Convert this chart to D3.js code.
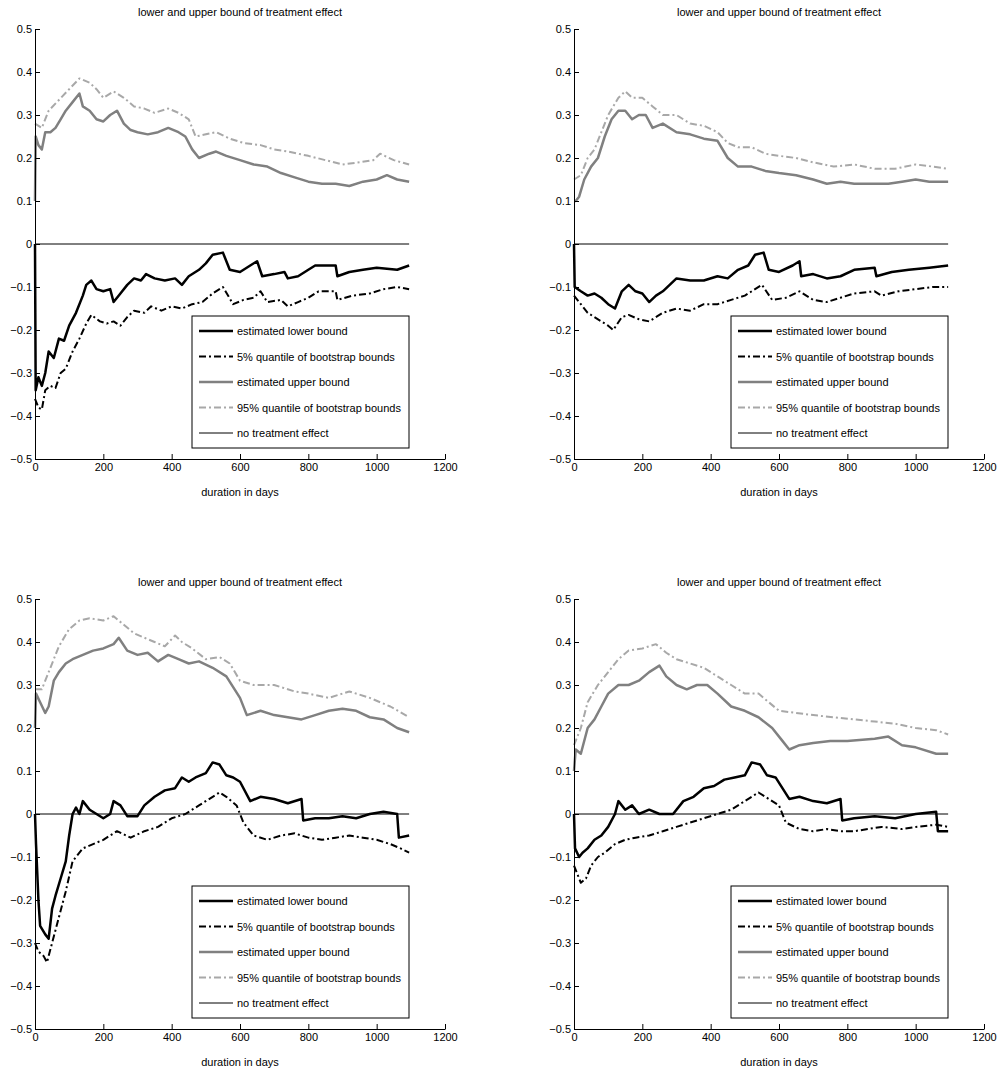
<!DOCTYPE html>
<html><head><meta charset="utf-8">
<script src="https://cdn.jsdelivr.net/npm/d3@7"></script>
<style>body{margin:0;background:#fff}text{font-family:"Liberation Sans",Arial,sans-serif}</style>
</head><body>
<svg id="c" width="1005" height="1075"></svg>
<script>
// data: [day, value] pairs
var p1Upper=[[0,0.1],[2,0.25],[10,0.23],[20,0.22],[30,0.26],[45,0.26],[60,0.27],[75,0.29],[90,0.31],[110,0.33],[130,0.35],[140,0.32],[160,0.31],[180,0.29],[200,0.285],[220,0.30],[240,0.31],[260,0.28],[280,0.265],[300,0.26],[330,0.255],[360,0.26],[390,0.27],[420,0.26],[440,0.25],[460,0.22],[480,0.2],[510,0.21],[530,0.215],[560,0.205],[600,0.195],[640,0.185],[680,0.18],[720,0.165],[760,0.155],[800,0.145],[840,0.14],[880,0.14],[920,0.135],[960,0.145],[1000,0.15],[1030,0.16],[1060,0.15],[1095,0.145]];
var p1Q95=[[0,0.28],[20,0.27],[40,0.31],[70,0.335],[100,0.36],[130,0.385],[160,0.375],[180,0.36],[200,0.34],[230,0.355],[260,0.34],[290,0.32],[320,0.315],[350,0.305],[390,0.315],[420,0.305],[450,0.29],[470,0.25],[500,0.255],[530,0.26],[570,0.245],[610,0.235],[660,0.23],[700,0.22],[740,0.215],[800,0.205],[850,0.195],[900,0.185],[950,0.19],[990,0.195],[1010,0.21],[1050,0.195],[1095,0.185]];
var p1Lower=[[0,0],[2,-0.34],[10,-0.31],[20,-0.33],[30,-0.3],[40,-0.25],[55,-0.265],[70,-0.22],[85,-0.225],[100,-0.19],[120,-0.16],[140,-0.12],[150,-0.095],[165,-0.085],[180,-0.105],[200,-0.11],[220,-0.105],[230,-0.135],[250,-0.115],[270,-0.095],[290,-0.08],[310,-0.085],[325,-0.07],[350,-0.08],[380,-0.085],[410,-0.08],[430,-0.095],[450,-0.075],[480,-0.06],[500,-0.045],[520,-0.025],[550,-0.02],[570,-0.06],[600,-0.065],[630,-0.05],[650,-0.04],[665,-0.075],[700,-0.07],[730,-0.065],[740,-0.08],[770,-0.075],[800,-0.06],[820,-0.05],[880,-0.05],[885,-0.075],[920,-0.065],[960,-0.06],[1000,-0.055],[1060,-0.06],[1095,-0.05]];
var p1Q5=[[0,-0.36],[10,-0.38],[20,-0.385],[30,-0.34],[45,-0.33],[60,-0.335],[75,-0.3],[90,-0.29],[110,-0.25],[130,-0.22],[150,-0.185],[165,-0.165],[190,-0.18],[210,-0.185],[230,-0.18],[250,-0.19],[270,-0.17],[290,-0.155],[320,-0.16],[340,-0.145],[370,-0.155],[400,-0.145],[430,-0.15],[460,-0.14],[490,-0.135],[520,-0.115],[550,-0.1],[580,-0.14],[610,-0.13],[640,-0.125],[660,-0.11],[680,-0.135],[720,-0.13],[740,-0.145],[770,-0.135],[800,-0.125],[830,-0.11],[880,-0.11],[885,-0.13],[930,-0.12],[980,-0.115],[1020,-0.105],[1060,-0.1],[1095,-0.105]];

var p2Upper=[[0,0.1],[5,0.1],[15,0.11],[30,0.15],[50,0.18],[70,0.2],[90,0.25],[110,0.29],[130,0.31],[150,0.31],[170,0.29],[190,0.3],[210,0.3],[230,0.27],[260,0.28],[300,0.26],[340,0.255],[380,0.245],[420,0.24],[450,0.2],[480,0.18],[520,0.18],[560,0.17],[600,0.165],[650,0.16],[700,0.15],[740,0.14],[780,0.145],[820,0.14],[880,0.14],[920,0.14],[960,0.145],[1000,0.15],[1040,0.145],[1095,0.145]];
var p2Q95=[[0,0.15],[20,0.16],[40,0.2],[60,0.22],[80,0.26],[100,0.3],[130,0.34],[150,0.355],[170,0.34],[200,0.34],[230,0.32],[260,0.3],[300,0.3],[340,0.28],[380,0.275],[420,0.26],[450,0.235],[480,0.225],[520,0.225],[560,0.21],[600,0.205],[650,0.2],[700,0.19],[760,0.18],[820,0.185],[880,0.175],[940,0.175],[1000,0.185],[1050,0.18],[1095,0.175]];
var p2Lower=[[0,0],[2,-0.1],[20,-0.11],[40,-0.12],[60,-0.115],[80,-0.125],[100,-0.14],[120,-0.15],[140,-0.11],[160,-0.095],[180,-0.11],[200,-0.115],[220,-0.135],[240,-0.12],[260,-0.11],[280,-0.095],[300,-0.08],[340,-0.085],[380,-0.085],[420,-0.075],[450,-0.08],[480,-0.06],[510,-0.05],[530,-0.025],[555,-0.02],[570,-0.06],[600,-0.065],[640,-0.05],[660,-0.04],[665,-0.075],[700,-0.07],[740,-0.08],[780,-0.075],[820,-0.06],[880,-0.055],[885,-0.075],[930,-0.065],[980,-0.06],[1040,-0.055],[1095,-0.05]];
var p2Q5=[[0,-0.12],[20,-0.14],[40,-0.16],[60,-0.17],[80,-0.18],[100,-0.19],[115,-0.2],[140,-0.17],[160,-0.165],[190,-0.175],[220,-0.18],[260,-0.16],[300,-0.15],[340,-0.155],[380,-0.14],[420,-0.14],[460,-0.13],[500,-0.12],[530,-0.105],[550,-0.095],[580,-0.13],[620,-0.125],[660,-0.11],[700,-0.13],[740,-0.135],[780,-0.125],[820,-0.115],[880,-0.11],[900,-0.12],[950,-0.11],[1000,-0.105],[1050,-0.1],[1095,-0.1]];

var p3Upper=[[0,0.2],[3,0.28],[15,0.26],[30,0.235],[40,0.25],[55,0.31],[70,0.33],[90,0.35],[110,0.36],[140,0.37],[170,0.38],[200,0.385],[230,0.395],[245,0.41],[270,0.38],[300,0.37],[330,0.375],[360,0.355],[390,0.37],[420,0.36],[450,0.35],[480,0.355],[520,0.34],[560,0.32],[600,0.27],[620,0.23],[660,0.24],[700,0.23],[740,0.225],[780,0.22],[820,0.23],[860,0.24],[900,0.245],[940,0.24],[980,0.225],[1020,0.22],[1060,0.2],[1095,0.19]];
var p3Q95=[[0,0.29],[20,0.29],[40,0.33],[70,0.39],[100,0.43],[130,0.45],[160,0.455],[200,0.45],[230,0.46],[260,0.44],[290,0.42],[320,0.41],[350,0.4],[380,0.39],[410,0.415],[430,0.4],[460,0.385],[500,0.36],[540,0.365],[570,0.35],[600,0.31],[640,0.3],[700,0.3],[760,0.285],[800,0.28],[860,0.27],[920,0.285],[980,0.27],[1040,0.25],[1095,0.225]];
var p3Lower=[[0,0],[3,-0.07],[10,-0.2],[15,-0.26],[30,-0.28],[40,-0.29],[50,-0.22],[60,-0.19],[75,-0.15],[90,-0.11],[100,-0.05],[110,0.0],[120,0.015],[130,0.0],[140,0.03],[160,0.01],[180,0.0],[200,-0.01],[220,0.0],[230,0.03],[250,0.02],[270,-0.005],[300,-0.005],[320,0.02],[350,0.04],[380,0.055],[410,0.06],[430,0.085],[450,0.075],[470,0.085],[500,0.095],[520,0.12],[540,0.115],[560,0.09],[580,0.085],[600,0.075],[630,0.03],[660,0.04],[700,0.035],[740,0.025],[780,0.035],[785,-0.015],[820,-0.01],[860,-0.01],[900,-0.005],[940,-0.01],[980,0.0],[1020,0.005],[1060,0.0],[1065,-0.055],[1095,-0.05]];
var p3Q5=[[0,-0.3],[10,-0.32],[25,-0.33],[35,-0.345],[50,-0.3],[70,-0.24],[90,-0.18],[110,-0.11],[140,-0.08],[170,-0.07],[200,-0.06],[240,-0.04],[280,-0.055],[320,-0.04],[360,-0.03],[400,-0.01],[440,0.0],[480,0.02],[520,0.04],[540,0.05],[560,0.04],[590,0.02],[610,-0.02],[640,-0.05],[680,-0.06],[720,-0.05],[760,-0.045],[800,-0.055],[840,-0.06],[880,-0.055],[920,-0.05],[960,-0.055],[1000,-0.06],[1040,-0.07],[1070,-0.08],[1095,-0.09]];

var p4Upper=[[0,0.1],[5,0.15],[20,0.14],[40,0.2],[60,0.22],[80,0.25],[100,0.28],[130,0.3],[160,0.3],[190,0.31],[220,0.33],[250,0.345],[270,0.32],[300,0.3],[330,0.29],[360,0.3],[390,0.3],[420,0.28],[460,0.25],[500,0.24],[540,0.225],[580,0.2],[610,0.17],[630,0.15],[660,0.16],[700,0.165],[750,0.17],[800,0.17],[880,0.175],[920,0.18],[960,0.16],[1000,0.155],[1060,0.14],[1095,0.14]];
var p4Q95=[[0,0.16],[20,0.2],[40,0.26],[70,0.3],[100,0.33],[130,0.36],[160,0.38],[200,0.385],[240,0.395],[270,0.375],[300,0.36],[340,0.35],[380,0.34],[420,0.32],[460,0.3],[500,0.28],[540,0.28],[570,0.26],[600,0.24],[650,0.235],[700,0.23],[760,0.225],[820,0.22],[880,0.215],[940,0.21],[1000,0.2],[1060,0.195],[1095,0.185]];
var p4Lower=[[0,0],[3,-0.08],[15,-0.1],[25,-0.09],[40,-0.08],[60,-0.06],[80,-0.05],[100,-0.03],[120,0.0],[130,0.03],[150,0.01],[170,0.02],[190,0.0],[220,0.01],[250,0.0],[290,0.0],[320,0.03],[350,0.04],[380,0.06],[410,0.065],[440,0.08],[470,0.085],[500,0.09],[520,0.12],[545,0.115],[565,0.09],[590,0.085],[610,0.06],[630,0.035],[660,0.04],[700,0.03],[740,0.025],[780,0.035],[785,-0.015],[820,-0.01],[880,-0.005],[940,-0.01],[1000,0.0],[1060,0.005],[1065,-0.04],[1095,-0.04]];
var p4Q5=[[0,-0.12],[10,-0.14],[20,-0.16],[35,-0.15],[50,-0.12],[70,-0.1],[90,-0.09],[120,-0.07],[150,-0.06],[180,-0.055],[220,-0.05],[260,-0.04],[300,-0.03],[340,-0.02],[380,-0.01],[420,0.0],[460,0.01],[500,0.03],[540,0.05],[570,0.035],[600,0.02],[620,-0.02],[660,-0.035],[700,-0.04],[740,-0.035],[780,-0.04],[820,-0.04],[860,-0.035],[900,-0.03],[960,-0.035],[1000,-0.03],[1060,-0.025],[1095,-0.03]];

var xTicks=[0,200,400,600,800,1000,1200];
var yTicks=[0.5,0.4,0.3,0.2,0.1,0,-0.1,-0.2,-0.3,-0.4,-0.5];
var legendLabels=["estimated lower bound","5% quantile of bootstrap bounds","estimated upper bound","95% quantile of bootstrap bounds","no treatment effect"];

var styles=[
  {stroke:"#000",w:2.5,dash:null},
  {stroke:"#000",w:2,dash:"7,3,2,3"},
  {stroke:"#808080",w:2.5,dash:null},
  {stroke:"#a8a8a8",w:2,dash:"7,3,2,3"},
  {stroke:"#000",w:1,dash:null}
];

var panels=[
  {left:35,top:29,series:[p1Lower,p1Q5,p1Upper,p1Q95]},
  {left:574,top:29,series:[p2Lower,p2Q5,p2Upper,p2Q95]},
  {left:35,top:599,series:[p3Lower,p3Q5,p3Upper,p3Q95]},
  {left:574,top:599,series:[p4Lower,p4Q5,p4Upper,p4Q95]}
];

var W=410,H=430;
var svg=d3.select("#c");
var fmt=function(d){return d===0?"0":d3.format(".1f")(d).replace("-","\u2212");};

panels.forEach(function(p){
  var g=svg.append("g").attr("transform","translate("+p.left+","+p.top+")");
  var x=d3.scaleLinear().domain([0,1200]).range([0,W]);
  var y=d3.scaleLinear().domain([-0.5,0.5]).range([H,0]);
  var line=d3.line().x(function(d){return x(d[0]);}).y(function(d){return y(d[1]);});

  // zero line
  g.append("line").attr("x1",x(0)).attr("x2",x(1095)).attr("y1",y(0)).attr("y2",y(0))
    .attr("stroke","#000").attr("stroke-width",1);

  [3,2,1,0].forEach(function(i){
    var s=styles[i];
    g.append("path").datum(p.series[i]).attr("d",line).attr("fill","none")
      .attr("stroke",s.stroke).attr("stroke-width",s.w)
      .attr("stroke-dasharray",s.dash).attr("stroke-linejoin","round");
  });

  var xa=g.append("g").attr("transform","translate(0,"+H+")")
    .call(d3.axisBottom(x).tickValues(xTicks).tickFormat(d3.format("d")).tickSize(-5).tickSizeOuter(0).tickPadding(4));
  var ya=g.append("g")
    .call(d3.axisLeft(y).tickValues(yTicks).tickFormat(fmt).tickSize(-5).tickSizeOuter(0).tickPadding(3));
  [xa,ya].forEach(function(a){
    a.selectAll("text").attr("font-size",11).attr("fill","#000");
    a.selectAll("line,path").attr("stroke","#000");
  });

  g.append("text").attr("x",W/2).attr("y",-13).attr("text-anchor","middle")
    .attr("font-size",11).text("lower and upper bound of treatment effect");
  g.append("text").attr("x",x(600)).attr("y",H+37).attr("text-anchor","middle")
    .attr("font-size",11).text("duration in days");

  // legend
  var lg=g.append("g").attr("transform","translate(157,"+(H-143)+")");
  lg.append("rect").attr("width",217).attr("height",132).attr("fill","#fff").attr("stroke","#000").attr("stroke-width",1);
  legendLabels.forEach(function(t,i){
    var s=styles[i], yy=15+i*25.5;
    lg.append("line").attr("x1",7).attr("x2",41).attr("y1",yy).attr("y2",yy)
      .attr("stroke",s.stroke).attr("stroke-width",s.w).attr("stroke-dasharray",s.dash);
    lg.append("text").attr("x",45).attr("y",yy+4).attr("font-size",11).text(t);
  });
});
</script>
</body></html>
